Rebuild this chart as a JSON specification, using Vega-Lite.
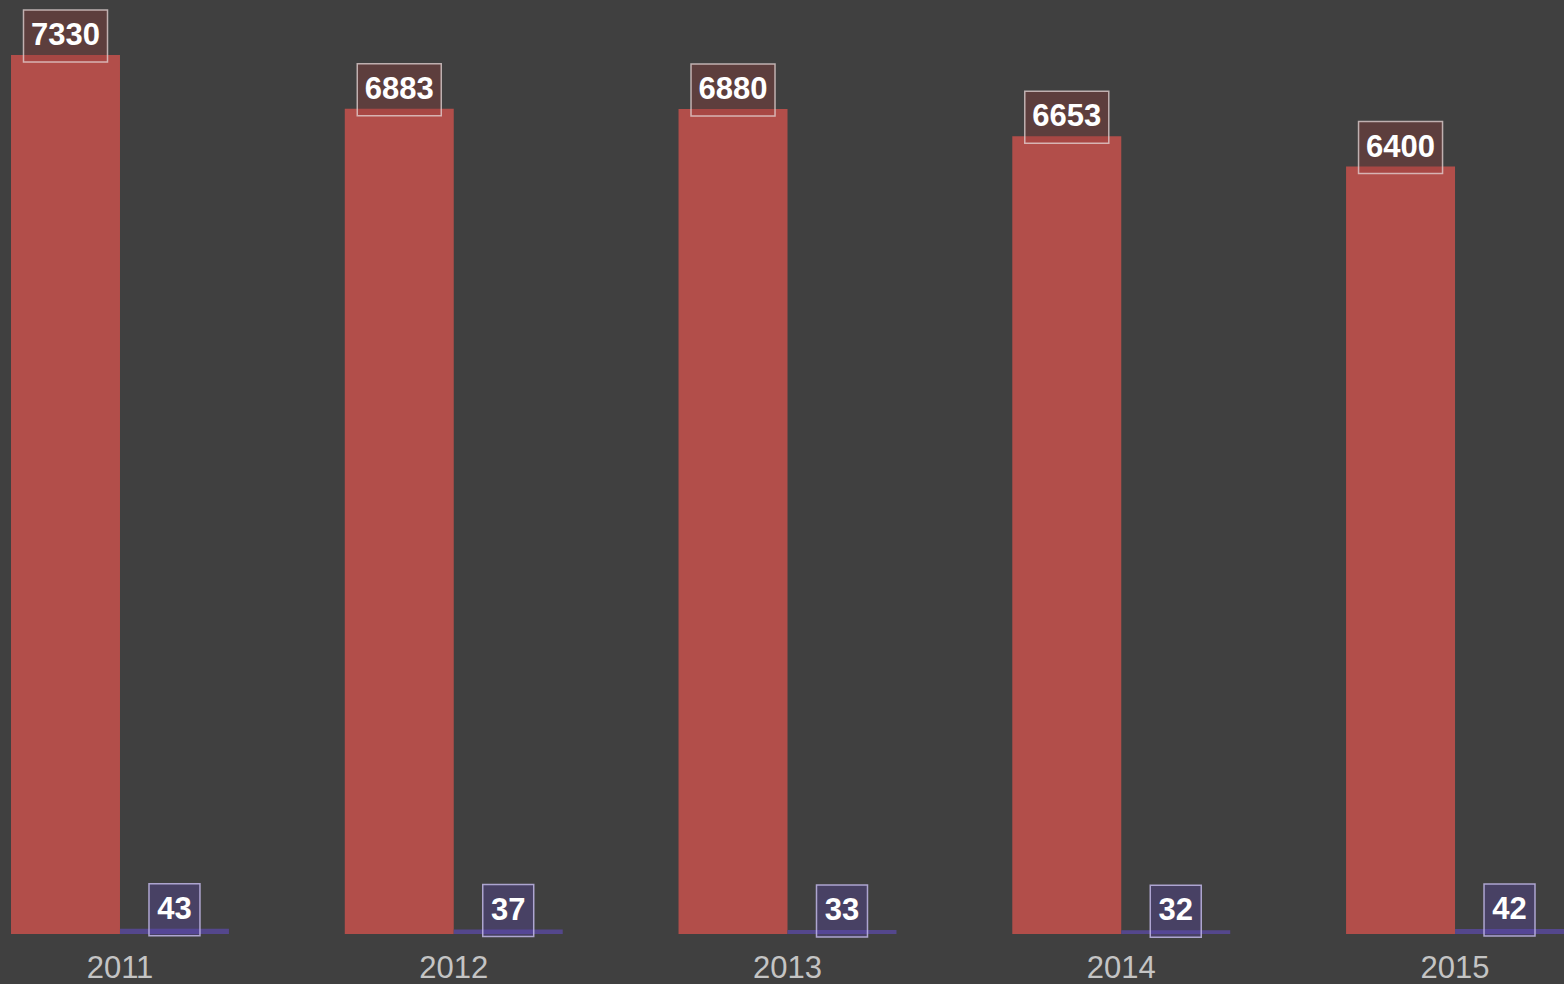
{
  "$schema": "https://vega.github.io/schema/vega-lite/v6.json",
  "width": 1564,
  "height": 934,
  "autosize": {"type": "none"},
  "padding": {"top": 0, "left": 0, "right": 0, "bottom": 50},
  "background": "#404040",
  "config": {"view": {"stroke": null}, "font": "Liberation Sans"},
  "data": {
    "values": [
      {"year": "2011", "series": "A", "value": 7330},
      {"year": "2011", "series": "B", "value": 43},
      {"year": "2012", "series": "A", "value": 6883},
      {"year": "2012", "series": "B", "value": 37},
      {"year": "2013", "series": "A", "value": 6880},
      {"year": "2013", "series": "B", "value": 33},
      {"year": "2014", "series": "A", "value": 6653},
      {"year": "2014", "series": "B", "value": 32},
      {"year": "2015", "series": "A", "value": 6400},
      {"year": "2015", "series": "B", "value": 42}
    ]
  },
  "encoding": {
    "x": {
      "field": "year",
      "type": "nominal",
      "scale": {"paddingInner": 0.347, "paddingOuter": 0.0165, "align": 1},
      "axis": {
        "title": null,
        "domain": false,
        "ticks": false,
        "labelAngle": 0,
        "labelColor": "#c4c4c4",
        "labelFontSize": 31,
        "labelFont": "Liberation Sans",
        "labelPadding": 19
      }
    },
    "xOffset": {"field": "series", "type": "nominal", "scale": {"paddingInner": 0, "paddingOuter": 0}},
    "y": {
      "field": "value",
      "type": "quantitative",
      "scale": {"domain": [0, 7789], "nice": false, "zero": true},
      "axis": null
    }
  },
  "layer": [
    {
      "mark": {"type": "bar"},
      "encoding": {
        "color": {
          "field": "series",
          "type": "nominal",
          "scale": {"domain": ["A", "B"], "range": ["#b24e4a", "#54478c"]},
          "legend": null
        }
      }
    },
    {
      "mark": {"type": "point", "filled": true, "size": 7056, "yOffset": -19, "strokeWidth": 1.5, "opacity": 1},
      "encoding": {
        "shape": {
          "field": "series",
          "type": "nominal",
          "scale": {"domain": ["A", "B"], "range": ["M-1,-0.619H1V0.619H-1Z", "M-0.607,-0.619H0.607V0.619H-0.607Z"]},
          "legend": null
        },
        "fill": {
          "field": "series",
          "type": "nominal",
          "scale": {"domain": ["A", "B"], "range": ["rgba(150,60,58,0.35)", "rgba(90,70,170,0.35)"]},
          "legend": null
        },
        "stroke": {
          "field": "series",
          "type": "nominal",
          "scale": {"domain": ["A", "B"], "range": ["rgba(230,215,215,0.75)", "rgba(200,190,240,0.8)"]},
          "legend": null
        }
      }
    },
    {
      "mark": {"type": "text", "dy": -19, "baseline": "middle", "align": "center", "fontSize": 31, "fontWeight": "bold", "color": "#ffffff", "font": "Liberation Sans"},
      "encoding": {
        "text": {"field": "value", "type": "quantitative", "format": "d"}
      }
    }
  ]
}
